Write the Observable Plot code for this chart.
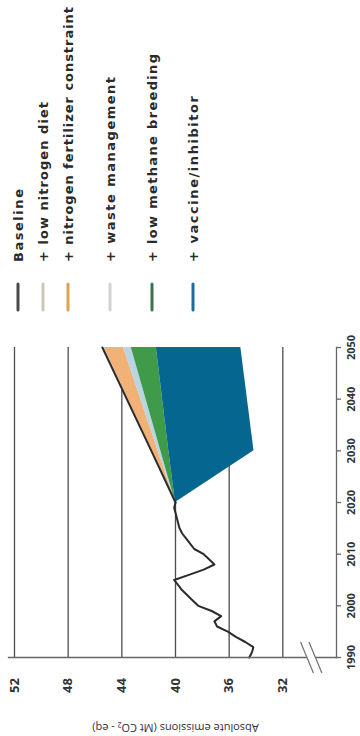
<!DOCTYPE html>
<html><head><meta charset="utf-8">
<script src="https://cdn.jsdelivr.net/npm/d3@7"></script>
<script src="https://cdn.jsdelivr.net/npm/@observablehq/plot@0.6"></script>
<style>
html,body{margin:0;padding:0;background:#fff;width:360px;height:736px;overflow:hidden}
#legend{position:absolute;left:0;top:0}
#chart{position:absolute;left:0;top:330px}
</style></head><body>
<div id="legend"></div><div id="chart"></div>
<script>
// ---- data ----
const histYears = [1990,1991,1992,1993,1994,1995,1996,1997,1998,1999,2000,2001,2002,2003,2004,2005,2006,2007,2008,2009,2010,2011,2012,2013,2014,2015,2016,2017,2018,2019,2020];
const histValues = [34.5,34.3,34.2,34.8,35.5,36.1,36.9,37.1,36.6,37.3,38.3,38.7,39.1,39.5,39.8,40.1,39.0,37.9,37.1,37.5,37.9,38.6,38.9,39.2,39.5,39.7,39.8,39.9,40.0,40.1,40.0];
const projYears = [2020, 2030, 2050];
const baseline = [40.0, 41.8, 45.45];
const lowNitrogenDiet = [40.0, 41.75, 45.3];
const fertilizerConstraint = [40.0, 41.3, 43.87];
const wasteManagement = [40.0, 41.1, 43.3];
const lowMethaneBreeding = [40.0, 40.5, 41.43];
const vaccineInhibitor = [40.0, 34.15, 35.13];
const seriesNames = ["Baseline", "+ low nitrogen diet", "+ nitrogen fertilizer constraint", "+ waste management", "+ low methane breeding", "+ vaccine/inhibitor"];
const seriesColors = ["#2b2b2b", "#d8ccb8", "#f2b176", "#b9d5e2", "#3f9a4a", "#05668f"];
const swatchColors = ["#4a4a4a", "#cfc5b5", "#dca153", "#d0d2d3", "#3b7450", "#1c6d9c"];
const valueTicks = [52, 48, 44, 40, 36, 32];
const yearTicks = [1990, 2000, 2010, 2020, 2030, 2040, 2050];
const valueDomain = [52, 28];
const yearDomain = [1990, 2050];
const breakValues = [30.2, 29.57];
const axisTitle = "Absolute emissions (Mt CO\u2082 - eq)";

// ---- legend (above the chart svg) ----
const legendX = [18, 43, 68, 110, 152, 193];
const legendLen = [73, 160, 255, 185, 208, 166];
const lg = d3.select("#legend").append("svg").attr("width", 360).attr("height", 330);
seriesNames.forEach((name, i) => {
  lg.append("line").attr("x1", legendX[i]).attr("x2", legendX[i]).attr("y1", 284).attr("y2", 310)
    .attr("stroke", swatchColors[i]).attr("stroke-width", 3).attr("stroke-linecap", "round");
  lg.append("text").attr("transform", `translate(${legendX[i]},262) rotate(-90)`)
    .attr("dominant-baseline", "central").attr("text-anchor", "start")
    .attr("font-family", "DejaVu Sans").attr("font-weight", "bold").attr("font-size", 13)
    .attr("fill", "#2a2a2a").attr("textLength", legendLen[i]).attr("lengthAdjust", "spacing")
    .text(name);
});

// ---- chart ----
const cumul = [baseline, lowNitrogenDiet, fertilizerConstraint, wasteManagement, lowMethaneBreeding, vaccineInhibitor];
const bands = [];
for (let i = 0; i < cumul.length - 1; i++) {
  projYears.forEach((yr, k) => bands.push({band: seriesNames[i + 1], year: yr, hi: cumul[i][k], lo: cumul[i + 1][k]}));
}
const hist = histYears.map((y, i) => ({year: y, value: histValues[i]}));
const proj = projYears.map((y, k) => ({year: y, value: baseline[k]}));

const chart = Plot.plot({
  width: 360, height: 406,
  marginLeft: 14, marginRight: 24, marginTop: 17, marginBottom: 79,
  x: {domain: valueDomain, axis: null},
  y: {domain: yearDomain, axis: null},
  color: {domain: seriesNames, range: seriesColors},
  style: {fontFamily: "Open Sans", background: "white", overflow: "visible"},
  marks: [
    Plot.ruleX(valueTicks, {y1: yearDomain[0], y2: yearDomain[1], stroke: "#4d4d4d", strokeWidth: 1.3}),
    Plot.areaX(bands, {y: "year", x1: "hi", x2: "lo", fill: "band", z: "band"}),
    Plot.lineX(hist, {x: "value", y: "year", stroke: "#2b2b2b", strokeWidth: 2, strokeLinejoin: "round"}),
    Plot.lineX(proj, {x: "value", y: "year", stroke: "#2b2b2b", strokeWidth: 2}),
    Plot.frame({anchor: "bottom", stroke: "#666", strokeWidth: 1.3, insetLeft: -6}),
    Plot.frame({anchor: "right", stroke: "#666", strokeWidth: 1.3}),
    Plot.axisY({ticks: yearTicks, anchor: "right", tickSize: 4, tickFormat: () => "", stroke: "#666", strokeWidth: 1.3, label: null}),
    Plot.link([breakValues], {x1: d => d[0], x2: d => d[1], y1: yearDomain[0], y2: yearDomain[0], stroke: "white", strokeWidth: 4}),
    Plot.link(breakValues, {x1: d => d + 0.48, y1: 1993, x2: d => d - 0.48, y2: 1987, stroke: "#777", strokeWidth: 1.3}),
    Plot.text(yearTicks, {y: d => d, text: d => String(d), frameAnchor: "right", dx: 11, rotate: -90,
      textAnchor: "middle", lineAnchor: "top", fontSize: 11, fontWeight: "bold", fill: "#333"}),
    Plot.text(valueTicks, {x: d => d, text: d => String(d), frameAnchor: "bottom", dy: 28, rotate: -90,
      textAnchor: "middle", lineAnchor: "middle", fontSize: 13, fontWeight: "bold", fill: "#333"}),
    Plot.text([axisTitle], {text: d => d, frameAnchor: "bottom", dy: 70, rotate: 180,
      textAnchor: "middle", lineAnchor: "middle", fontSize: 11, fill: "#333"})
  ]
});
document.getElementById("chart").appendChild(chart);
</script>
</body></html>
